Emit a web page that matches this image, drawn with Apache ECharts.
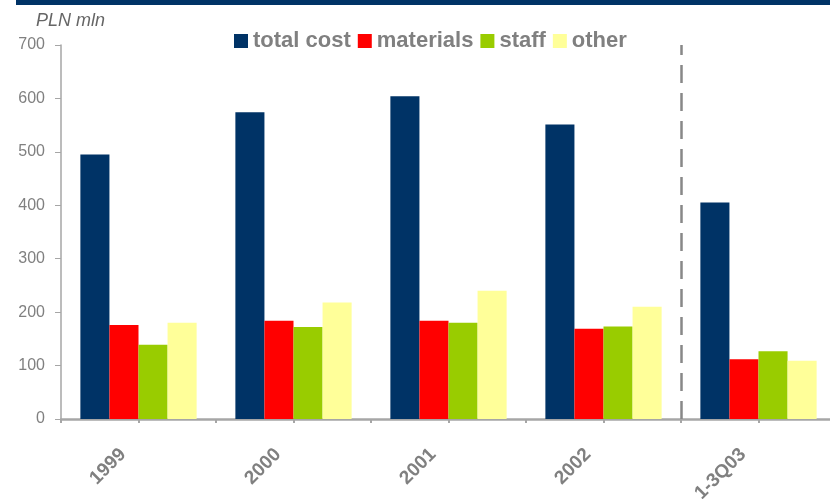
<!DOCTYPE html>
<html>
<head>
<meta charset="utf-8">
<script src="https://cdn.jsdelivr.net/npm/echarts@6/dist/echarts.min.js"></script>
<style>html,body{margin:0;padding:0;background:#fff}#c{width:830px;height:499px}</style>
</head>
<body>
<div id="c"></div>
<script>
const categories = ['1999', '2000', '2001', '2002', '1-3Q03'];
const totalCost = [495, 574, 604, 551, 405];
const materials = [176, 184, 184, 169, 112];
const staff = [139, 172, 180, 173, 127];
const other = [180, 218, 240, 210, 109];
const subTicks = ['', '', '', '', '', '', '', '', '', ''];
const dividerAt = 4; // boundary between historical years and 1-3Q03

const FONT = "'Liberation Sans', Arial, sans-serif";
const GRAY = '#808080';
const chart = echarts.init(document.getElementById('c'), null, {renderer: 'canvas'});
chart.setOption({
  animation: false,
  title: {
    text: 'PLN mln', left: 36, top: 12, padding: 0,
    textStyle: {fontFamily: FONT, fontSize: 18, fontStyle: 'italic', fontWeight: 'normal', color: '#666'}
  },
  graphic: [{type: 'rect', shape: {x: 16, y: 0, width: 814, height: 5}, style: {fill: '#003366'}}],
  legend: {
    left: 234, top: 30, padding: 0, itemGap: 7, itemWidth: 14, itemHeight: 14, icon: 'rect',
    textStyle: {fontFamily: FONT, fontSize: 22, fontWeight: 'bold', color: GRAY},
    data: ['total cost', 'materials', 'staff', 'other']
  },
  grid: {left: 61, top: 45, width: 775, height: 374, containLabel: false, outerBoundsMode: 'none'},
  xAxis: [{
    type: 'category', data: categories, boundaryGap: true,
    axisLine: {lineStyle: {color: '#A6A6A6', width: 2.5}},
    axisTick: {show: false},
    splitLine: {show: false},
    axisLabel: {rotate: 45, interval: 0, margin: 17, padding: [0, 22, 0, 0],
      fontFamily: FONT, fontSize: 19, fontWeight: 'bold', color: GRAY}
  }, {
    type: 'category', data: subTicks, position: 'bottom', boundaryGap: true,
    axisLine: {show: false},
    axisTick: {show: true, length: 4, lineStyle: {color: '#A6A6A6', width: 2}},
    axisLabel: {show: false}, splitLine: {show: false}
  }, {
    type: 'value', min: 0, max: categories.length, show: false, position: 'bottom'
  }],
  yAxis: {
    type: 'value', min: 0, max: 700, interval: 100,
    axisLine: {show: true, lineStyle: {color: '#A6A6A6', width: 1.5}},
    axisTick: {show: true, length: 6, lineStyle: {color: '#A6A6A6'}},
    splitLine: {show: false},
    axisLabel: {margin: 16, fontFamily: FONT, fontSize: 16, color: GRAY}
  },
  series: [
    {name: 'total cost', type: 'bar', data: totalCost, barGap: '0%', barCategoryGap: '25%', itemStyle: {color: '#003366'}},
    {name: 'materials', type: 'bar', data: materials, itemStyle: {color: '#FF0000'}},
    {name: 'staff', type: 'bar', data: staff, itemStyle: {color: '#99CC00'}},
    {name: 'other', type: 'bar', data: other, itemStyle: {color: '#FFFF99'}},
    {name: 'divider', type: 'line', xAxisIndex: 2, data: [], silent: true,
      markLine: {symbol: 'none', silent: true, label: {show: false},
        lineStyle: {color: '#888', width: 2.5, type: [18, 10]},
        data: [{xAxis: dividerAt}]}}
  ]
});
</script>
</body>
</html>
